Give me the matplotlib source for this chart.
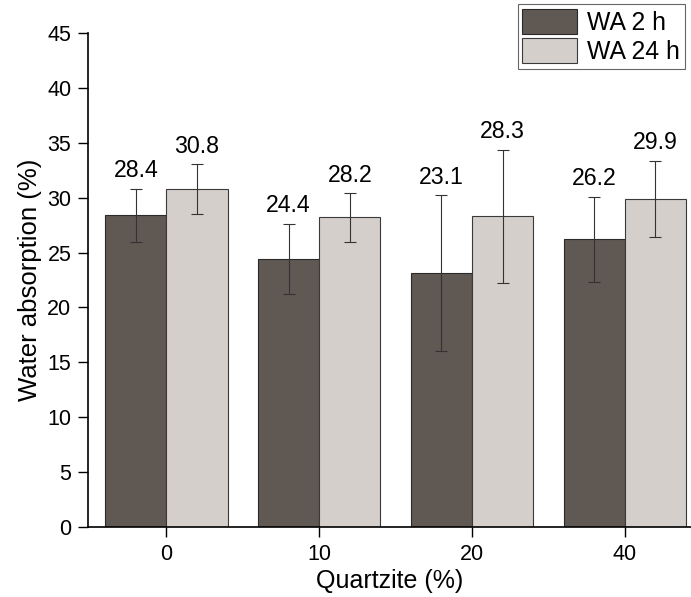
import numpy as np
from matplotlib import pyplot as plt

plt.rcParams['font.family'] = ['Liberation Sans', 'DejaVu Sans']

categories = ['0', '10', '20', '40']
wa_2h = [28.4, 24.4, 23.1, 26.2]
wa_24h = [30.8, 28.2, 28.3, 29.9]
err_2h = [2.4, 3.2, 7.1, 3.9]
err_24h = [2.25, 2.2, 6.05, 3.45]

dark = '#605853'
light = '#d4cfcb'

fig = plt.figure(figsize=(6.91, 5.97), dpi=100)
ax = fig.add_axes([0.1274, 0.1173, 0.872, 0.8274])

x = np.arange(len(categories))
w = 0.4
err_kw = dict(ecolor='#333333', elinewidth=0.8, capsize=4.5, capthick=0.8)

ax.bar(x - w / 2, wa_2h, w, color=dark, edgecolor='#2a2a2a', linewidth=0.8,
       yerr=err_2h, error_kw=err_kw, label='WA 2 h')
ax.bar(x + w / 2, wa_24h, w, color=light, edgecolor='#3a3a3a', linewidth=0.8,
       yerr=err_24h, error_kw=err_kw, label='WA 24 h')

# value labels above the error bars
for xs, vals, errs in [(x - w / 2, wa_2h, err_2h), (x + w / 2, wa_24h, err_24h)]:
    for xi, v, e in zip(xs, vals, errs):
        ax.text(xi, v + e + 0.6, '%.1f' % v, ha='center', va='bottom', fontsize=16.7)

ax.set_xlim(-0.513, 3.43)
ax.set_ylim(0, 45)
ax.set_yticks(np.arange(0, 46, 5))
ax.set_xticks(x)
ax.set_xticklabels(categories)
ax.tick_params(labelsize=15.5, length=7, width=1, direction='out', pad=5)
ax.spines['top'].set_visible(False)
ax.spines['right'].set_visible(False)
ax.spines['left'].set_linewidth(1.2)
ax.spines['bottom'].set_linewidth(1.2)

ax.set_xlabel('Quartzite (%)', fontsize=18, labelpad=3)
ax.set_ylabel('Water absorption (%)', fontsize=18.5, labelpad=4)

leg = ax.legend(loc='upper right', bbox_to_anchor=(0.99, 1.059), fontsize=17.8,
                fancybox=False, edgecolor='#666666', framealpha=1,
                handlelength=2.2, handleheight=1.2, handletextpad=0.4,
                borderpad=0.2, labelspacing=0.12, borderaxespad=0)
leg.get_frame().set_linewidth(0.8)

fig.savefig('out.png', dpi=100)
